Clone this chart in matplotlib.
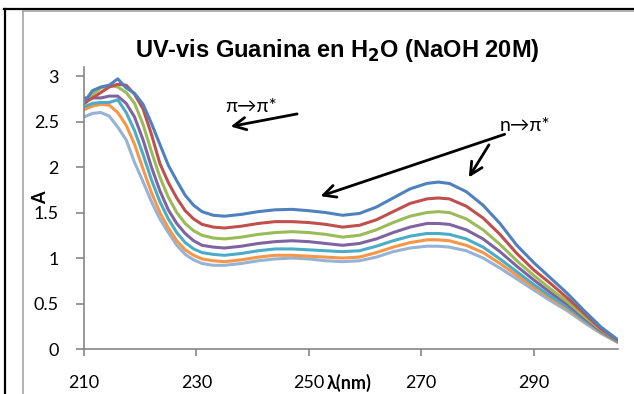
import matplotlib
matplotlib.use('Agg')
import matplotlib.pyplot as plt
from matplotlib.lines import Line2D

plt.rcParams.update({
    'font.family': ['Lato', 'DejaVu Sans'],
    'font.size': 13,
})

# wavelength grid (nm) shared by all spectra
wl = [210, 211.5, 213, 214.5, 216, 217.5, 219, 220.5, 222, 223.5, 225, 226.5,
      228, 229.5, 231, 233, 235, 238, 241, 244, 247, 250, 253, 256, 259, 262,
      265, 268, 271, 273, 275, 278, 281, 284, 287, 290, 293, 296, 299, 302, 305]

a_blue = [2.71, 2.84, 2.88, 2.90, 2.97, 2.87, 2.81, 2.69, 2.48, 2.25, 2.02, 1.85,
          1.69, 1.58, 1.51, 1.47, 1.46, 1.48, 1.51, 1.53, 1.535, 1.52, 1.50, 1.47, 1.49, 1.56,
          1.66, 1.76, 1.82, 1.835, 1.82, 1.73, 1.58, 1.38, 1.14, 0.95, 0.78, 0.61, 0.42, 0.24, 0.10]
a_red = [2.70, 2.76, 2.82, 2.88, 2.91, 2.90, 2.80, 2.64, 2.36, 2.04, 1.83, 1.66,
         1.52, 1.43, 1.37, 1.34, 1.33, 1.35, 1.38, 1.40, 1.40, 1.39, 1.37, 1.34, 1.36, 1.42,
         1.51, 1.60, 1.65, 1.66, 1.65, 1.57, 1.44, 1.26, 1.05, 0.87, 0.72, 0.56, 0.39, 0.22, 0.095]
a_green = [2.68, 2.80, 2.87, 2.90, 2.88, 2.82, 2.70, 2.47, 2.17, 1.89, 1.67, 1.50,
           1.38, 1.30, 1.25, 1.22, 1.21, 1.23, 1.26, 1.28, 1.29, 1.28, 1.26, 1.23, 1.25, 1.31,
           1.39, 1.46, 1.50, 1.51, 1.50, 1.43, 1.31, 1.15, 0.97, 0.81, 0.66, 0.52, 0.36, 0.21, 0.09]
a_purple = [2.76, 2.76, 2.76, 2.78, 2.78, 2.70, 2.55, 2.30, 2.00, 1.74, 1.53, 1.38,
            1.27, 1.19, 1.14, 1.12, 1.11, 1.13, 1.16, 1.18, 1.19, 1.18, 1.16, 1.14, 1.16, 1.21,
            1.28, 1.34, 1.38, 1.38, 1.37, 1.31, 1.21, 1.07, 0.91, 0.76, 0.62, 0.49, 0.34, 0.20, 0.085]
a_teal = [2.66, 2.70, 2.71, 2.71, 2.74, 2.60, 2.40, 2.14, 1.86, 1.62, 1.43, 1.28,
          1.17, 1.10, 1.06, 1.04, 1.03, 1.05, 1.08, 1.10, 1.10, 1.09, 1.08, 1.07, 1.08, 1.13,
          1.19, 1.24, 1.27, 1.27, 1.26, 1.21, 1.12, 0.99, 0.85, 0.71, 0.58, 0.46, 0.32, 0.19, 0.08]
a_orange = [2.63, 2.67, 2.69, 2.68, 2.60, 2.46, 2.25, 1.98, 1.72, 1.50, 1.33, 1.19,
            1.09, 1.03, 0.99, 0.97, 0.96, 0.98, 1.01, 1.03, 1.03, 1.02, 1.01, 1.00, 1.01, 1.06,
            1.12, 1.17, 1.20, 1.20, 1.19, 1.14, 1.06, 0.94, 0.81, 0.68, 0.56, 0.44, 0.31, 0.18, 0.075]
a_light = [2.55, 2.59, 2.60, 2.56, 2.44, 2.30, 2.05, 1.84, 1.62, 1.43, 1.28, 1.14,
           1.04, 0.98, 0.94, 0.92, 0.92, 0.94, 0.97, 0.99, 1.00, 0.99, 0.97, 0.96, 0.97, 1.01,
           1.07, 1.11, 1.13, 1.13, 1.12, 1.08, 1.00, 0.89, 0.77, 0.65, 0.53, 0.42, 0.29, 0.17, 0.07]

series = [a_light, a_orange, a_teal, a_purple, a_green, a_red, a_blue]
colours = ['#95B3D7', '#F79646', '#4BACC6', '#8064A2', '#9BBB59', '#C0504D', '#4F81BD']

x_ticks = [210, 230, 250, 270, 290]
y_ticks = [0, 0.5, 1, 1.5, 2, 2.5, 3]
y_labels = ['0', '0.5', '1', '1.5', '2', '2.5', '3']

fig = plt.figure(figsize=(6.34, 3.94), dpi=100)
ax = fig.add_axes([84 / 634, 45 / 394, (618 - 84) / 634, (349 - 67) / 394])

for vals, c in zip(series, colours):
    ax.plot(wl, vals, color=c, lw=2.2, solid_capstyle='round', solid_joinstyle='round')

ax.set_xlim(210, 305)
ax.set_ylim(0, 3.1)
ax.set_xticks(x_ticks)
ax.set_yticks(y_ticks)
ax.set_yticklabels(y_labels)

axis_grey = '#868686'
for side in ['top', 'right']:
    ax.spines[side].set_visible(False)
for side in ['left', 'bottom']:
    ax.spines[side].set_color(axis_grey)
    ax.spines[side].set_linewidth(1.2)
ax.tick_params(axis='x', direction='out', length=5, width=1.2, color=axis_grey, pad=14)
ax.tick_params(axis='y', direction='out', length=6, width=1.2, color=axis_grey, pad=12)

ax.set_title(r'UV-vis Guanina en H$_\mathbf{2}$O (NaOH 20M)', fontsize=17,
             fontweight='bold', family='Liberation Sans', pad=7,
             x=(337 - 84) / (618 - 84))
ax.set_ylabel('A', fontweight='bold', fontsize=13)
ax.yaxis.set_label_coords((49 - 84) / (618 - 84), (349 - 198) / (349 - 67))
ax.set_xlabel('λ(nm)', fontweight='bold', fontsize=13, va='center')
ax.xaxis.set_label_coords((349 - 84) / (618 - 84), -(383 - 349) / (349 - 67))

# transition annotations
arrow = dict(arrowstyle='->', color='black', lw=2, mutation_scale=22)
ax.text(239.7, 2.67, 'π→π*', fontsize=14, ha='center', va='center')
ax.annotate('', xy=(235.6, 2.44), xytext=(248.4, 2.59), arrowprops=arrow)
ax.text(288.5, 2.46, 'n→π*', fontsize=14, ha='center', va='center')
ax.annotate('', xy=(251.6, 1.67), xytext=(285.3, 2.37), arrowprops=arrow)
ax.annotate('', xy=(278.2, 1.86), xytext=(282.3, 2.27), arrowprops=arrow)

# surrounding frame (cell border + chart area border)
W, H = 634, 394
fig.add_artist(Line2D([4 / W, 1], [1 - 8.5 / H, 1 - 8.5 / H], color='black', lw=1.6,
                      transform=fig.transFigure))
fig.add_artist(Line2D([5 / W, 5 / W], [0, 1 - 8.5 / H], color='black', lw=1.6,
                      transform=fig.transFigure))
fig.add_artist(Line2D([22.5 / W, 1], [1 - 10.5 / H, 1 - 10.5 / H], color='#a6a6a6', lw=1.2,
                      transform=fig.transFigure))
fig.add_artist(Line2D([22.5 / W, 22.5 / W], [0, 1 - 10.5 / H], color='#a6a6a6', lw=1.2,
                      transform=fig.transFigure))

fig.savefig('out.png', dpi=100)
